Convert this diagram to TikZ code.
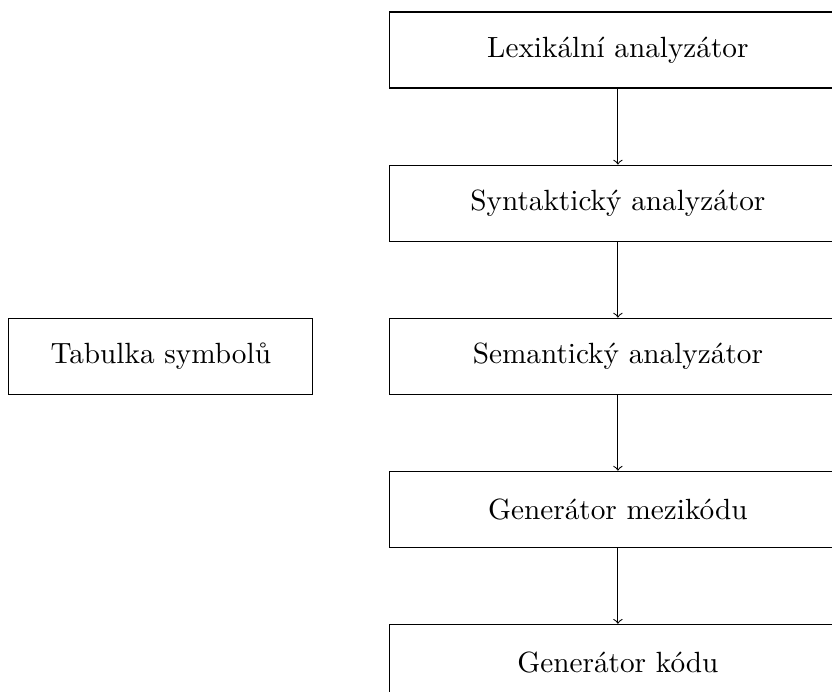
\documentclass[tikz,border=0pt,11pt]{standalone}
\usepackage{fontspec}
\usetikzlibrary{positioning}

\tikzset{
    stage/.style={draw, minimum width=6cm, minimum height=1cm},
    table/.style={draw, minimum width=4cm, minimum height=1cm}
}

\begin{document}
\begin{tikzpicture}[node distance=1cm]
    \useasboundingbox (0,0) rectangle (10.947,-9.092);

    \node[stage] (lex) at (8.13,-0.658) {Lexikální analyzátor};
    \node[stage, below=of lex] (syn) {Syntaktický analyzátor};
    \node[stage, below=of syn] (sem) {Semantický analyzátor};
    \node[stage, below=of sem] (mid) {Generátor mezikódu};
    \node[stage, below=of mid] (gen) {Generátor kódu};

    \node[table, left=of sem] (tab) {Tabulka symbolů};

    \foreach \from/\to in {lex/syn, syn/sem, sem/mid, mid/gen}
    {
        \draw[->] (\from) -- (\to);
    }
\end{tikzpicture}
\end{document}
